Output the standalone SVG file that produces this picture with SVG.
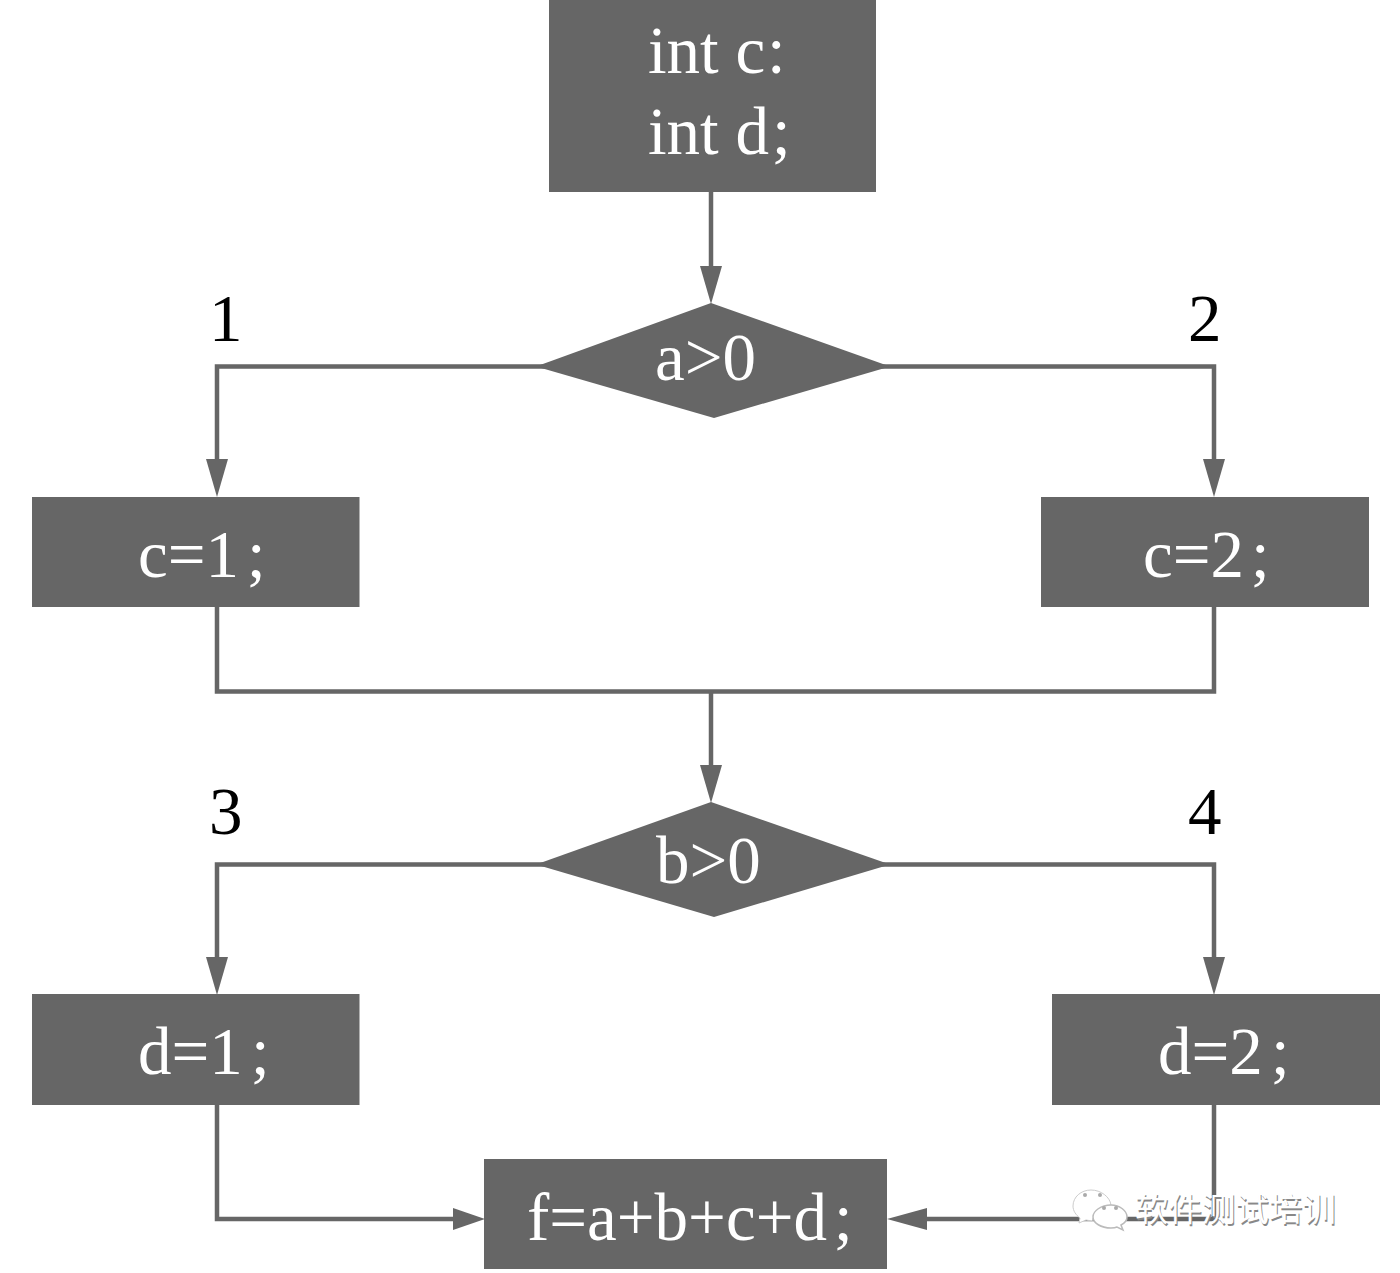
<svg xmlns="http://www.w3.org/2000/svg" width="1400" height="1273" viewBox="0 0 1400 1273">
<style>
.box{fill:#666666}
.wire{fill:none;stroke:#666666;stroke-width:4.5}
.head{fill:#666666}
.in{font-family:"Liberation Serif","Times New Roman",serif;font-size:67px;fill:#ffffff}
.num{font-family:"Liberation Serif","Times New Roman",serif;font-size:67px;fill:#000000}
.wm{font-family:"Noto Sans CJK SC",sans-serif;font-size:33.5px;text-anchor:start}
</style>
<defs>
<polygon id="down" class="head" points="-11,-38 11,-38 0,0"/>
</defs>
<rect width="1400" height="1273" fill="#ffffff"/>
<g id="connectors">
<path class="wire" d="M711 192V280"/>
<path class="wire" d="M545 366.500H217V470"/>
<path class="wire" d="M880 366.500H1214V470"/>
<path class="wire" d="M217 606V691.500H1214V606"/>
<path class="wire" d="M711 691V780"/>
<path class="wire" d="M545 864.500H217V968"/>
<path class="wire" d="M880 864.500H1214V968"/>
<path class="wire" d="M217 1104V1219H460"/>
<path class="wire" d="M1214 1104V1219H920"/>
<use href="#down" x="711" y="304"/>
<use href="#down" x="217" y="497"/>
<use href="#down" x="1214" y="497"/>
<use href="#down" x="711" y="803"/>
<use href="#down" x="217" y="995"/>
<use href="#down" x="1214" y="995"/>
<polygon class="head" points="453,1208 453,1230 485,1219"/>
<polygon class="head" points="927,1208 927,1230 887,1219"/>
</g>
<g id="decl"><rect class="box" x="549" y="0" width="327" height="192"/>
<text class="in" x="648" y="73">int c</text><text class="in" x="767" y="73">:</text>
<text class="in" x="648" y="154">int d</text><text class="in" x="772" y="154">;</text></g>
<g id="cond-a"><polygon class="box" points="536,366.500 711,303 890,366.500 714,418"/>
<text class="in" x="655" y="380">a&gt;0</text></g>
<g id="c1"><rect class="box" x="32" y="497" width="327.500" height="110"/>
<text class="in" x="138" y="577">c=1</text><text class="in" x="247" y="577">;</text></g>
<g id="c2"><rect class="box" x="1041" y="497" width="328" height="110"/>
<text class="in" x="1143" y="577">c=2</text><text class="in" x="1251" y="577">;</text></g>
<g id="cond-b"><polygon class="box" points="536,864.500 711,802 890,864.500 714,917"/>
<text class="in" x="656" y="883">b&gt;0</text></g>
<g id="d1"><rect class="box" x="32" y="994" width="327.500" height="111"/>
<text class="in" x="138" y="1074">d=1</text><text class="in" x="251" y="1074">;</text></g>
<g id="d2"><rect class="box" x="1052" y="994" width="328" height="111"/>
<text class="in" x="1158" y="1074">d=2</text><text class="in" x="1271" y="1074">;</text></g>
<g id="sum"><rect class="box" x="484" y="1159" width="403" height="110"/>
<text class="in" x="527" y="1240">f=a+b+c+d</text><text class="in" x="834" y="1240">;</text></g>
<g id="labels">
<text class="num" x="209" y="341">1</text>
<text class="num" x="1188" y="341">2</text>
<text class="num" x="209" y="834">3</text>
<text class="num" x="1188" y="834">4</text>
</g>
<g id="brand">
<path d="M1091 1190c-10 0-18 7-18 16 0 5 3 9 7 12l-1 5 7-3c2 0 4 1 6 1 2-8 12-15 19-16-1-8-10-15-20-15z" fill="#ffffff" stroke="#cccccc" stroke-width="1"/>
<path d="M1111 1205c-10 0-18 6-18 12s8 11 18 11c2 0 4 0 6-1l6 3-2-5c4-2 6-5 6-8 0-6-7-12-16-12z" fill="#ffffff" stroke="#bbbbbb" stroke-width="1.5"/>
<g fill="#aaaaaa"><circle cx="1085" cy="1195" r="2"/><circle cx="1100" cy="1195" r="2"/><circle cx="1104" cy="1208" r="2"/><circle cx="1116" cy="1208" r="2"/></g>
<text class="wm" x="1135" y="1222" fill="#888888" dx="1" dy="1">软件测试培训</text>
<text class="wm" x="1135" y="1221" fill="#ffffff">软件测试培训</text>
</g>
</svg>
